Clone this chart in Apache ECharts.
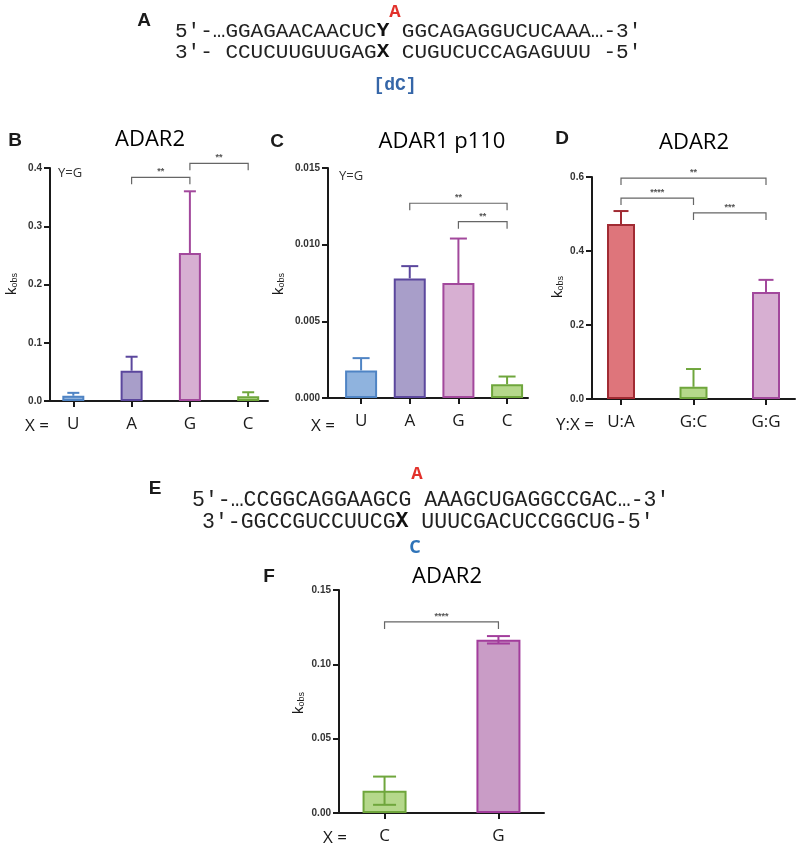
<!DOCTYPE html>
<html>
<head>
<meta charset="utf-8">
<title>ADAR kobs</title>
<script src="https://cdn.jsdelivr.net/npm/echarts@6/dist/echarts.min.js"></script>
<style>
  html, body { margin: 0; padding: 0; background: #fff; }
  #fig { width: 799px; height: 848px; }
</style>
</head>
<body>
<div id="fig"></div>
<script>
// B: ADAR2, Y=G
var bCats = ['U', 'A', 'G', 'C'];
var bMean = [0.009, 0.052, 0.254, 0.008];
var bSd = [0.005, 0.024, 0.106, 0.007];
var bYTicks = ['0.0', '0.1', '0.2', '0.3', '0.4'];
var bBrackets = [[1, 2, 0.384], [2, 3, 0.408]];
var bStars = ['**', '**'];

// C: ADAR1 p110, Y=G
var cCats = ['U', 'A', 'G', 'C'];
var cMean = [0.0018, 0.0078, 0.0075, 0.0009];
var cSd = [0.0008, 0.0008, 0.0029, 0.0005];
var cYTicks = ['0.000', '0.005', '0.010', '0.015'];
var cBrackets = [[1, 3, 0.0127], [2, 3, 0.0115]];
var cStars = ['**', '**'];

// D: ADAR2, Y:X pairs
var dCats = ['U:A', 'G:C', 'G:G'];
var dMean = [0.473, 0.033, 0.289];
var dSd = [0.035, 0.048, 0.033];
var dYTicks = ['0.0', '0.2', '0.4', '0.6'];
var dBrackets = [[0, 2, 0.597], [0, 1, 0.543], [1, 2, 0.503]];
var dStars = ['**', '****', '***'];

// F: ADAR2, second substrate
var fCats = ['C', 'G'];
var fMean = [0.015, 0.1165];
var fSd = [0.0095, 0.0025];
var fYTicks = ['0.00', '0.05', '0.10', '0.15'];
var fBrackets = [[0, 1, 0.1285]];
var fStars = ['****'];

var ink = '#1a1a1a';
var blue = ['#8fb3de', '#4f84c4'], purple = ['#a89ec9', '#5b479d'],
    pink = ['#d7afd2', '#a2489c'], green = ['#b5d88b', '#6fa63c'],
    red = ['#de757b', '#a12b33'], pink2 = ['#c99cc6', '#a23d9c'];

var panels = [
  { cats: bCats, mean: bMean, sd: bSd, yTicks: bYTicks, br: bBrackets, stars: bStars,
    grid: { left: 50, top: 168, width: 218, height: 233 }, xMin: -0.4, xMax: 3.34,
    barW: 22, cap: 12, both: false, colors: [blue, purple, pink, green] },
  { cats: cCats, mean: cMean, sd: cSd, yTicks: cYTicks, br: cBrackets, stars: cStars,
    grid: { left: 328, top: 168, width: 200, height: 230 }, xMin: -0.68, xMax: 3.43,
    barW: 32, cap: 17, both: false, colors: [blue, purple, pink, green] },
  { cats: dCats, mean: dMean, sd: dSd, yTicks: dYTicks, br: dBrackets, stars: dStars,
    grid: { left: 592, top: 177, width: 203, height: 222 }, xMin: -0.4, xMax: 2.4,
    barW: 28, cap: 15, both: false, colors: [red, green, pink] },
  { cats: fCats, mean: fMean, sd: fSd, yTicks: fYTicks, br: fBrackets, stars: fStars,
    grid: { left: 339, top: 590, width: 205, height: 223 }, xMin: -0.4, xMax: 1.4,
    barW: 44, cap: 23, both: true, colors: [green, pink2] }
];

var option = { animation: false, grid: [], xAxis: [], yAxis: [], series: [], graphic: [] };

panels.forEach(function (p, i) {
  var idx = p.cats.map(function (c, k) { return k; });
  var step = parseFloat(p.yTicks[1]);
  option.grid.push(p.grid);
  option.xAxis.push({
    type: 'value', gridIndex: i, min: p.xMin, max: p.xMax,
    axisLine: { onZero: false, lineStyle: { color: ink, width: 2 } },
    axisTick: { customValues: idx, length: 6, lineStyle: { color: ink, width: 2 } },
    axisLabel: {
      customValues: idx, margin: 15, fontSize: 17, color: ink, fontFamily: 'Open Sans',
      formatter: function (v) { return p.cats[Math.round(v)]; }
    },
    splitLine: { show: false }
  });
  option.yAxis.push({
    type: 'value', gridIndex: i, min: 0,
    max: parseFloat(p.yTicks[p.yTicks.length - 1]), interval: step,
    axisLine: { show: true, onZero: false, lineStyle: { color: ink, width: 2 } },
    axisTick: { show: true, length: 6, lineStyle: { color: ink, width: 2 } },
    axisLabel: {
      margin: 8, fontSize: 10, fontWeight: 'bold', color: '#333', fontFamily: 'Liberation Sans',
      formatter: function (v) { return p.yTicks[Math.round(v / step)]; }
    },
    splitLine: { show: false }
  });

  // bars
  option.series.push({
    type: 'bar', xAxisIndex: i, yAxisIndex: i, barWidth: p.barW, silent: true,
    data: p.mean.map(function (v, k) {
      return { value: [k, v], itemStyle: { color: p.colors[k][0], borderColor: p.colors[k][1], borderWidth: 2 } };
    })
  });

  // error bars
  option.series.push({
    type: 'custom', xAxisIndex: i, yAxisIndex: i, silent: true, z: 3,
    data: p.mean.map(function (v, k) { return [k, v, p.sd[k]]; }),
    renderItem: function (params, api) {
      var k = params.dataIndex;
      var x = api.value(0), m = api.value(1), s = api.value(2);
      var hi = api.coord([x, m + s]);
      var lo = api.coord([x, p.both ? m - s : m]);
      var c = p.colors[k][1], w = p.cap / 2;
      var kids = [
        { type: 'line', shape: { x1: hi[0], y1: hi[1], x2: lo[0], y2: lo[1] }, style: { stroke: c, lineWidth: 2 } },
        { type: 'line', shape: { x1: hi[0] - w, y1: hi[1], x2: hi[0] + w, y2: hi[1] }, style: { stroke: c, lineWidth: 2 } }
      ];
      if (p.both) {
        kids.push({ type: 'line', shape: { x1: lo[0] - w, y1: lo[1], x2: lo[0] + w, y2: lo[1] }, style: { stroke: c, lineWidth: 2 } });
      }
      return { type: 'group', children: kids };
    }
  });

  // significance brackets
  option.series.push({
    type: 'custom', xAxisIndex: i, yAxisIndex: i, silent: true, z: 4,
    data: p.br,
    renderItem: function (params, api) {
      var a = api.coord([api.value(0), api.value(2)]);
      var b = api.coord([api.value(1), api.value(2)]);
      var t = 7;
      return { type: 'group', children: [
        { type: 'polyline', shape: { points: [[a[0], a[1] + t], a, b, [b[0], b[1] + t]] },
          style: { stroke: '#666', lineWidth: 1.2, fill: 'none' } },
        { type: 'text', x: (a[0] + b[0]) / 2, y: a[1] - 1,
          style: { text: p.stars[params.dataIndex], textAlign: 'center', textVerticalAlign: 'bottom',
                   font: 'bold 9px "Liberation Sans"', fill: '#555' } }
      ] };
    }
  });
});

function txt(x, y, text, font, fill, align, extra) {
  var el = { type: 'text', x: x, y: y, silent: true,
    style: { text: text, font: font, fill: fill || ink, textAlign: align || 'center', textVerticalAlign: 'middle' } };
  if (extra) { for (var key in extra) el.style[key] = extra[key]; }
  return el;
}

// Courier-like face for the sequences
var mono = '"Courier New", Courier, "Liberation Mono", "Nimbus Mono PS", monospace';
var seqRich = function (size) {
  return { rich: {
    n: { font: size + 'px ' + mono, fill: '#222' },
    b: { font: 'bold ' + size + 'px ' + mono, fill: '#111' }
  } };
};
var letter = 'bold 19px "Liberation Sans"';
var title = '22px "Open Sans"';
var lab = '17px "Open Sans"';

option.graphic = [
  // A: duplex
  txt(144, 21, 'A', letter),
  txt(395, 12, 'A', 'bold 19px ' + mono, '#e2312b'),
  txt(175, 31, '{n|5′-…GGAGAACAACUC}{b|Y}{n| GGCAGAGGUCUCAAA…-3′}', null, null, 'left', seqRich(21)),
  txt(175, 52, '{n|3′- CCUCUUGUUGAG}{b|X}{n| CUGUCUCCAGAGUUU -5′}', null, null, 'left', seqRich(21)),
  txt(395, 85, '[dC]', 'bold 18px ' + mono, '#3566a8'),

  // panel titles and letters
  txt(15, 141, 'B', letter), txt(150, 140, 'ADAR2', title, '#000'),
  txt(277, 142, 'C', letter), txt(442, 142, 'ADAR1 p110', title, '#000'),
  txt(562, 139, 'D', letter), txt(694, 143, 'ADAR2', title, '#000'),
  txt(58, 173, 'Y=G', '13px "Open Sans"', '#333', 'left'),
  txt(339, 176, 'Y=G', '13px "Open Sans"', '#333', 'left'),
  txt(37, 426, 'X =', lab), txt(323, 426, 'X =', lab), txt(575, 425, 'Y:X =', lab),

  // E: duplex
  txt(155, 489, 'E', letter),
  txt(417, 474, 'A', 'bold 19px ' + mono, '#e2312b'),
  txt(192, 500, '{n|5′-…CCGGCAGGAAGCG AAAGCUGAGGCCGAC…-3′}', null, null, 'left', seqRich(21.5)),
  txt(202, 522, '{n|3′-GGCCGUCCUUCG}{b|X}{n| UUUCGACUCCGGCUG-5′}', null, null, 'left', seqRich(21.5)),
  txt(415, 548, 'C', 'bold 18px "Open Sans"', '#2e73b8'),

  // F
  txt(269, 577, 'F', letter), txt(447, 577, 'ADAR2', title, '#000'),
  txt(335, 838, 'X =', lab)
];

// k_obs axis names
[[12, 284], [279, 284], [558, 287], [299, 703]].forEach(function (pos) {
  option.graphic.push({
    type: 'text', x: pos[0], y: pos[1], rotation: Math.PI / 2, silent: true,
    style: {
      text: '{k|k}{s|obs}', textAlign: 'center', textVerticalAlign: 'middle',
      rich: {
        k: { font: '15px "Liberation Sans"', fill: ink },
        s: { font: '9px "Liberation Sans"', fill: ink, padding: [6, 0, 0, 0] }
      }
    }
  });
});

var chart = echarts.init(document.getElementById('fig'));
chart.setOption(option);
</script>
</body>
</html>
